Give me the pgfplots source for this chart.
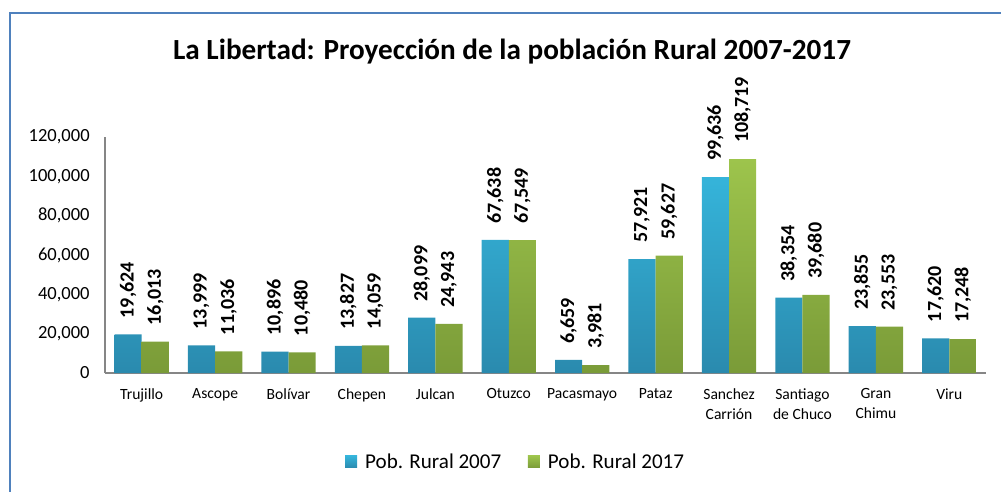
\documentclass[border=0pt]{standalone}
\usepackage{fontspec}
\setmainfont{Carlito}
\usepackage{pgfplots}
\pgfplotsset{compat=1.18}
\definecolor{frameblue}{HTML}{4F81BD}
\definecolor{bluetop}{HTML}{35B4DA}
\definecolor{bluebot}{HTML}{2A8AAE}
\definecolor{greentop}{HTML}{9DC44C}
\definecolor{greenbot}{HTML}{7A9B38}
\definecolor{axisgray}{HTML}{868686}
\begin{document}
\begin{tikzpicture}
\useasboundingbox (0,0) rectangle (750.75pt,-369pt);
\clip (0,0) rectangle (750.75pt,-369pt);
\draw[frameblue, line width=2.2pt] (7.5pt,-400pt) -- (7.5pt,-9.75pt) -- (800pt,-9.75pt);
\node[font=\bfseries\fontsize{21.9}{26}\selectfont, anchor=base] at (384pt,-45pt) {La Libertad: Proyección de la población Rural 2007-2017};
\begin{axis}[
  at={(78.75pt,-279.75pt)}, anchor=south west,
  scale only axis, width=660.75pt, height=177pt,
  xmin=-0.5, xmax=11.5, ymin=0, ymax=120000,
  clip=false,
  axis x line*=bottom, axis y line*=left,
  axis line style={draw=axisgray, line width=1.1pt, -},
  major tick length=0pt,
  xtick={0,...,11},
  xticklabels={Trujillo, Ascope, Bolívar, Chepen, Julcan, Otuzco, Pacasmayo, Pataz, {Sanchez\\Carrión}, {Santiago\\de Chuco}, {Gran\\Chimu}, Viru},
  xticklabel style={align=center, anchor=north, font=\fontsize{11.7}{15}\selectfont, yshift=-8pt},
  ytick={0,20000,...,120000},
  yticklabel style={anchor=east, font=\fontsize{13.9}{16}\selectfont, xshift=-8pt},
  scaled y ticks=false,
  /pgf/number format/.cd, fixed, 1000 sep={,}, assume math mode=true,
  /pgfplots/.cd,
  legend columns=2,
  legend style={at={(0.4665,-0.377)}, anchor=center, draw=none, fill=none,
    font=\fontsize{15.8}{18}\selectfont, /tikz/every even column/.append style={column sep=18pt}},
  legend image code/.code={\fill[#1] (-3pt,-4.5pt) rectangle (6pt,4.5pt); \path (10pt,0);},
  nodes near coords,
  nodes near coords style={yshift=12pt, rotate=90, anchor=west, inner xsep=0pt, font=\bfseries\fontsize{15}{18}\selectfont, text=black},
]
\addplot[ybar, bar width=0.37, bar shift=0, draw=none, top color=bluetop, bottom color=bluebot] coordinates {
(-0.185,19624) (0.815,13999) (1.815,10896) (2.815,13827) (3.815,28099) (4.815,67638) (5.815,6659) (6.815,57921) (7.815,99636) (8.815,38354) (9.815,23855) (10.815,17620)};
\addplot[ybar, bar width=0.37, bar shift=0, draw=none, top color=greentop, bottom color=greenbot] coordinates {
(0.185,16013) (1.185,11036) (2.185,10480) (3.185,14059) (4.185,24943) (5.185,67549) (6.185,3981) (7.185,59627) (8.185,108719) (9.185,39680) (10.185,23553) (11.185,17248)};
\legend{Pob. Rural 2007, Pob. Rural 2017}
\end{axis}
\end{tikzpicture}
\end{document}
